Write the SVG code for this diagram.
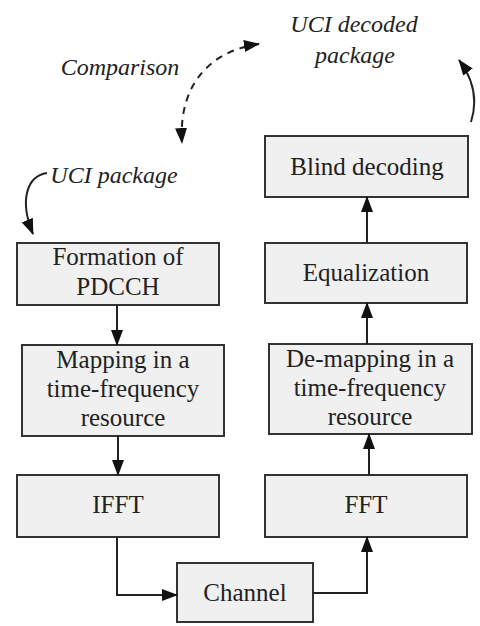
<svg xmlns="http://www.w3.org/2000/svg" width="480" height="626" viewBox="0 0 480 626">
<style>
.box{fill:#f0f0f0;stroke:#333;stroke-width:2}
.c{fill:none;stroke:#222;stroke-width:2}
.d{stroke-dasharray:7,6}
</style>
<defs>
<marker id="ah" viewBox="0 0 16 12" refX="15" refY="6" markerWidth="16" markerHeight="12" markerUnits="userSpaceOnUse" orient="auto-start-reverse">
<path d="M0,0 L16,6 L0,12 Z" fill="#111"/>
</marker>
</defs>
<g font-family="Liberation Serif, Times New Roman, serif" fill="#222" text-anchor="middle">
<g id="label-uci-decoded" font-style="italic" font-size="24"><text x="354" y="32">UCI decoded</text><text x="355" y="63">package</text></g>
<g id="label-comparison" font-style="italic" font-size="24"><text x="120" y="75">Comparison</text></g>
<g id="label-uci-package" font-style="italic" font-size="24"><text x="114" y="183">UCI package</text></g>
<g font-size="25">
<g id="blind"><rect class="box" x="265" y="136" width="203" height="61"/><text x="367" y="175">Blind decoding</text></g>
<g id="formation"><rect class="box" x="17" y="243" width="202" height="62"/><text x="118" y="265">Formation of</text><text x="118" y="295">PDCCH</text></g>
<g id="equalization"><rect class="box" x="265" y="243" width="202" height="60"/><text x="366" y="281">Equalization</text></g>
<g id="mapping"><rect class="box" x="22" y="345" width="202" height="91"/><text x="123" y="368">Mapping in a</text><text x="123" y="397">time-frequency</text><text x="123" y="426">resource</text></g>
<g id="demapping"><rect class="box" x="269" y="344" width="203" height="90"/><text x="370" y="367">De-mapping in a</text><text x="370" y="396">time-frequency</text><text x="370" y="425">resource</text></g>
<g id="ifft"><rect class="box" x="17" y="475" width="202" height="62"/><text x="118" y="513">IFFT</text></g>
<g id="fft"><rect class="box" x="265" y="475" width="202" height="62"/><text x="366" y="513">FFT</text></g>
<g id="channel"><rect class="box" x="177" y="563" width="136" height="59"/><text x="245" y="601">Channel</text></g>
</g>
</g>
<g id="connectors">
<path class="c" d="M117,305 V345" marker-end="url(#ah)"/>
<path class="c" d="M118,436 V475" marker-end="url(#ah)"/>
<path class="c" d="M117,537 V595 H177" marker-end="url(#ah)"/>
<path class="c" d="M313,593 H367 V537" marker-end="url(#ah)"/>
<path class="c" d="M369,475 V434" marker-end="url(#ah)"/>
<path class="c" d="M367,344 V303" marker-end="url(#ah)"/>
<path class="c" d="M367,243 V197" marker-end="url(#ah)"/>
<path class="c" d="M471,122 C478,100 474,80 459,60" marker-end="url(#ah)"/>
<path class="c" d="M47,173 C27,176 19,200 33,234" marker-end="url(#ah)"/>
<path class="c d" d="M259,44 C215,50 178,80 182,143" marker-start="url(#ah)" marker-end="url(#ah)"/>
</g>
</svg>
